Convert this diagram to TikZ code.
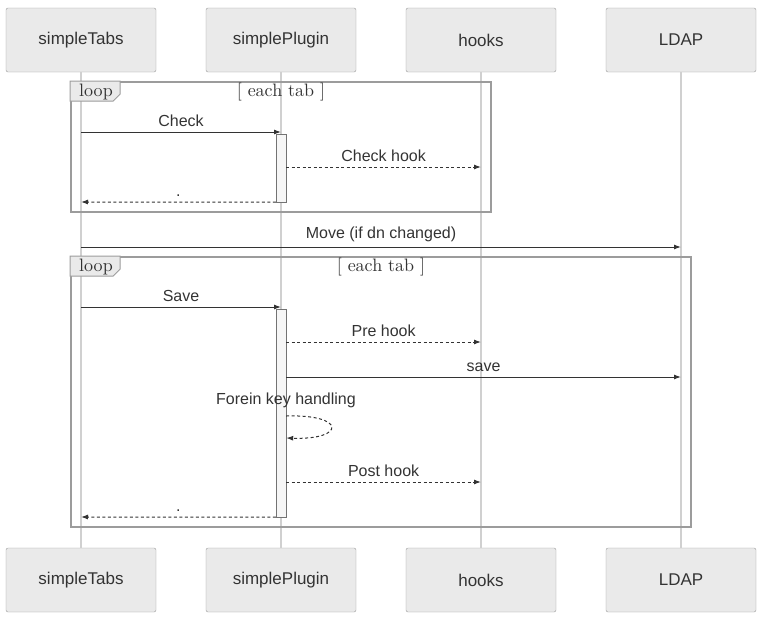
\documentclass[tikz,border=0pt]{standalone}
\usepackage{fontspec}
\newfontfamily\labelfont{Liberation Sans}
\usetikzlibrary{arrows.meta,positioning,calc}

\definecolor{actorfill}{HTML}{EAEAEA}
\definecolor{actorline}{HTML}{9A9A9A}
\definecolor{lifegray}{HTML}{D0D0D0}
\definecolor{inkgray}{HTML}{333333}
\definecolor{framegray}{HTML}{9C9C9C}

\begin{document}
\begin{tikzpicture}[
          x=1pt, y=-1pt,
          actor/.style={rectangle, draw=actorline, fill=actorfill, rounded corners=2pt, minimum width=150pt, minimum height=64pt, text=inkgray, font=\labelfont\fontsize{17}{20}\selectfont},
          life/.style={draw=lifegray, line width=1.2pt},
          msg/.style={-{Latex[length=7pt,width=5pt]}, draw=inkgray, line width=1pt},
          reply/.style={msg, dash pattern=on 3pt off 2.5pt},
          msglabel/.style={midway, above=1.5pt, text=inkgray, font=\labelfont\fontsize{16}{19}\selectfont},
          activation/.style={rectangle, draw=gray!90!black, fill=gray!7, minimum width=10pt, inner sep=0pt},
          frame/.style={rectangle, draw=framegray, line width=1.8pt, inner sep=0pt},
          looptag/.style={draw=framegray, line width=0.8pt, fill=actorfill},
          guard/.style={text=inkgray, scale=1.8, font=\fontsize{10}{12}\selectfont}
      ]
          \useasboundingbox (0,0) rectangle (763,619);
          % participants and lifelines
          \foreach \name/\txt/\x in {tabs/simpleTabs/81, plugin/simplePlugin/281, hooks/hooks/481, ldap/LDAP/681} {
              \node[actor] (\name Top) at (\x,40) {\txt};
              \node[actor] (\name Bot) at (\x,580) {\txt};
              \draw[life] (\name Top) -- (\name Bot);
          }

          % first loop
          \node[frame, minimum width=420pt, minimum height=130pt] (loopA) at (281,147) {};
          \draw[looptag] (loopA.north west) -- ++(50,0) -- ++(0,13) -- ++(-7,7) -- ++(-43,0) -- cycle;
          \node[guard] (loopAtag) at (96,92) {loop};
          \node[guard] (loopAguard) at (281,92) {[ each tab ]};
          \node[activation, minimum height=68pt] (actA) at (281,168) {};
          \draw[msg] (tabsTop |- 0,132) -- node[msglabel] {Check} (actA |- 0,132);
          \draw[reply] (actA.east |- 0,167) -- node[msglabel] {Check hook} (hooksTop |- 0,167);
          \draw[reply] (actA.south west) -- node[msglabel] {.} (tabsTop |- 0,202);

          % move
          \draw[msg] (tabsTop |- 0,247) -- node[msglabel] {Move (if dn changed)} (ldapTop |- 0,247);

          % second loop
          \node[frame, minimum width=620pt, minimum height=270pt] (loopB) at (381,392) {};
          \draw[looptag] (loopB.north west) -- ++(50,0) -- ++(0,13) -- ++(-7,7) -- ++(-43,0) -- cycle;
          \node[guard] (loopBtag) at (96,267) {loop};
          \node[guard] (loopBguard) at (381,267) {[ each tab ]};
          \node[activation, minimum height=208pt] (actB) at (281,413) {};
          \draw[msg] (tabsTop |- 0,307) -- node[msglabel] {Save} (actB |- 0,307);
          \draw[reply] (actB.east |- 0,342) -- node[msglabel] {Pre hook} (hooksTop |- 0,342);
          \draw[msg] (actB.east |- 0,377) -- node[msglabel] {save} (ldapTop |- 0,377);
          \node[text=inkgray, font=\labelfont\fontsize{16}{19}\selectfont] (foreinLbl) at (286,400) {Forein key handling};
          \draw[reply] (actB.east |- 0,416) .. controls (346,414) and (346,440) .. (actB.east |- 0,438);
          \draw[reply] (actB.east |- 0,482) -- node[msglabel] {Post hook} (hooksTop |- 0,482);
          \draw[reply] (actB.south west) -- node[msglabel] {.} (tabsTop |- 0,517);
      \end{tikzpicture}
\end{document}
